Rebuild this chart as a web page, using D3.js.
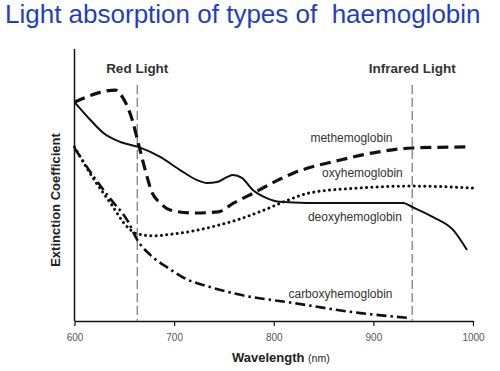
<!DOCTYPE html>
<html>
<head>
<meta charset="utf-8">
<script src="https://cdn.jsdelivr.net/npm/d3@7"></script>
<style>
  body { margin: 0; background: #fff; }
  svg { display: block; font-family: "Liberation Sans", Arial, sans-serif; }
</style>
</head>
<body>
<div class="chartDiv"></div>
<script>
"use strict"

// wavelength (nm) / extinction (arbitrary units, 0-100)
var methWave = [600, 641, 648, 658, 664, 671, 678, 686, 696, 719, 744, 760, 780, 807, 820, 867, 904, 939, 994];
var methVals = [80.5, 84.9, 82.4, 73.9, 65.4, 55.5, 47.1, 43.4, 40.8, 39.7, 40.1, 43.4, 47.1, 52.3, 54.4, 59.2, 62.1, 63.6, 64.0];

var deoxyWave = [600, 616, 629, 646, 664, 686, 706, 723, 733, 743, 753, 759, 768, 779, 793, 806, 834, 887, 930, 939, 960, 980, 994];
var deoxyVals = [80.5, 73.9, 69.1, 65.8, 64.0, 60.3, 55.5, 51.8, 50.7, 51.1, 52.9, 53.7, 52.6, 48.2, 45.2, 43.8, 43.4, 43.4, 43.4, 41.9, 38.2, 33.5, 26.1];

var oxyWave = [600, 618, 636, 653, 663, 680, 699, 719, 741, 766, 793, 812, 836, 886, 939, 1000];
var oxyVals = [64.0, 52.9, 43.4, 34.6, 32.0, 31.3, 32.0, 33.1, 34.9, 37.5, 41.2, 44.1, 47.1, 48.9, 49.6, 48.9];

var carboxyWave = [600, 618, 636, 654, 663, 676, 694, 710, 736, 763, 820, 887, 937];
var carboxyVals = [63.6, 53.7, 44.9, 36.4, 29.8, 24.3, 19.5, 15.8, 12.5, 9.9, 6.6, 2.9, 1.1];

var xTicks = [600, 700, 800, 900, 1000];
var lightBands = ["Red Light", "Infrared Light"];
var lightWaves = [663, 939];

var seriesNames = ["methemoglobin", "oxyhemoglobin", "deoxyhemoglobin", "carboxyhemoglobin"];

var width = 500;
var height = 371;
var margin = {left: 74.5, right: 27, top: 49, bottom: 50};

var svg = d3.select(".chartDiv").append("svg")
    .attr("width", width)
    .attr("height", height);

var x = d3.scaleLinear().domain([600, 1000]).range([margin.left, width - margin.right]);
var y = d3.scaleLinear().domain([0, 100]).range([height - margin.bottom, margin.top]);

// title
svg.append("text")
    .attr("x", 5)
    .attr("y", 23)
    .attr("fill", "#1f3ec4")
    .attr("font-size", 26)
    .style("white-space", "pre")
    .text("Light absorption of types of  haemoglobin");

// x axis
var xAxis = svg.append("g")
    .attr("transform", "translate(0," + y(0) + ")")
    .call(d3.axisBottom(x).tickValues(xTicks).tickFormat(d3.format("d")).tickSize(5).tickSizeOuter(0).tickPadding(8));
xAxis.select(".domain").attr("stroke", "#111").attr("stroke-width", 1.5);
xAxis.selectAll(".tick line").attr("stroke", "#111").attr("stroke-width", 1.2);
xAxis.selectAll(".tick text").attr("fill", "#555").attr("font-size", 10).attr("font-family", "Liberation Sans, Arial, sans-serif");

// y axis line only
svg.append("line")
    .attr("x1", x(600)).attr("x2", x(600))
    .attr("y1", y(100)).attr("y2", y(0))
    .attr("stroke", "#111").attr("stroke-width", 1.5);

// axis titles
var xTitle = svg.append("text")
    .attr("x", 232)
    .attr("y", 362)
    .attr("fill", "#222");
xTitle.append("tspan").attr("font-weight", "bold").attr("font-size", 13).text("Wavelength ");
xTitle.append("tspan").attr("font-size", 10.5).text("(nm)");

svg.append("text")
    .attr("transform", "translate(60,200) rotate(-90)")
    .attr("text-anchor", "middle")
    .attr("font-weight", "bold")
    .attr("font-size", 13)
    .attr("fill", "#222")
    .text("Extinction Coefficient");

// light band markers
lightWaves.forEach(function(w, i)
{
    svg.append("line")
        .attr("x1", x(w)).attr("x2", x(w))
        .attr("y1", 85).attr("y2", y(0))
        .attr("stroke", "#808080")
        .attr("stroke-width", 1.3)
        .attr("stroke-dasharray", "9,4");

    svg.append("text")
        .attr("x", x(w))
        .attr("y", 73)
        .attr("text-anchor", "middle")
        .attr("font-weight", "bold")
        .attr("font-size", 13.5)
        .attr("fill", "#333")
        .text(lightBands[i]);
});

// curves
var line = d3.line()
    .x(function(d) { return x(d[0]) })
    .y(function(d) { return y(d[1]) })
    .curve(d3.curveMonotoneX);

function zipSeries(w, v) { return w.map(function(d, i) { return [d, v[i]] }) }

var curves = [
    {data: zipSeries(methWave, methVals), width: 3.2, dash: "11,6", cap: "butt"},
    {data: zipSeries(oxyWave, oxyVals), width: 3, dash: "0.1,5.2", cap: "round"},
    {data: zipSeries(deoxyWave, deoxyVals), width: 2, dash: null, cap: "butt"},
    {data: zipSeries(carboxyWave, carboxyVals), width: 2.6, dash: "10,4,2.5,4", cap: "butt"}
];

svg.selectAll(".curve")
    .data(curves)
    .enter()
    .append("path")
    .attr("class", "curve")
    .attr("d", function(d) { return line(d.data) })
    .attr("fill", "none")
    .attr("stroke", "#111")
    .attr("stroke-width", function(d) { return d.width })
    .attr("stroke-linecap", function(d) { return d.cap })
    .attr("stroke-dasharray", function(d) { return d.dash });

// series labels
var labelAt = [[878, 65.8], [889, 52.9], [881.5, 36.8], [867, 8.6]];
svg.selectAll(".seriesLabel")
    .data(seriesNames)
    .enter()
    .append("text")
    .attr("class", "seriesLabel")
    .attr("x", function(d, i) { return x(labelAt[i][0]) })
    .attr("y", function(d, i) { return y(labelAt[i][1]) })
    .attr("text-anchor", "middle")
    .attr("font-size", 12)
    .attr("fill", "#333")
    .text(function(d) { return d });
</script>
</body>
</html>
